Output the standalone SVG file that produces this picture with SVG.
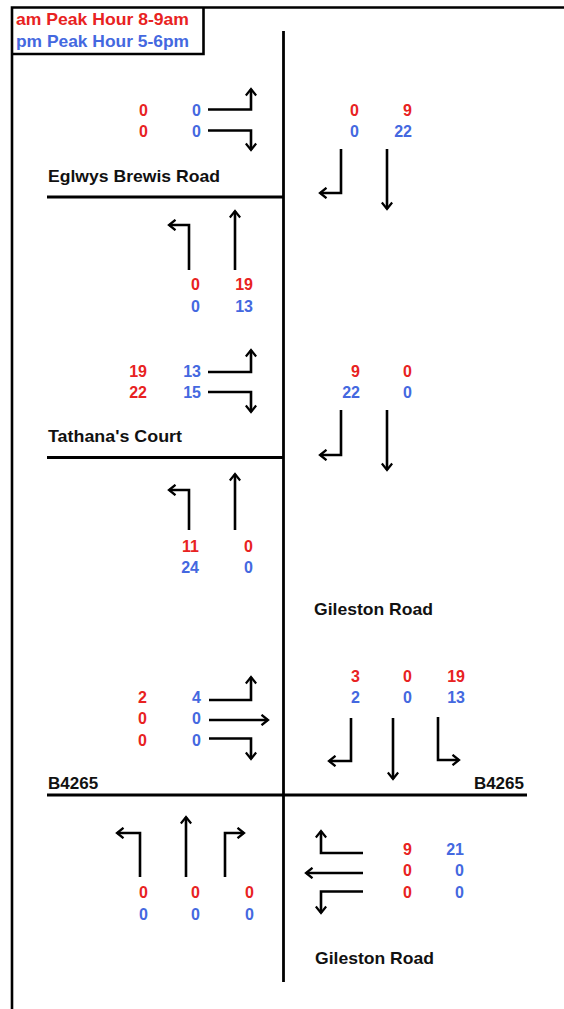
<svg xmlns="http://www.w3.org/2000/svg" width="564" height="1009" viewBox="0 0 564 1009">
  <defs>
    <style>
      .frame { stroke: #000; stroke-width: 2.6; fill: none; }
      .road { stroke: #000; stroke-width: 2.8; fill: none; }
      .mv { stroke: #000; stroke-width: 2.6; fill: none; marker-end: url(#head); }
      .lbl { font-family: "Liberation Sans", Arial, sans-serif; font-weight: bold; font-size: 17px; fill: #111; }
      .n { font-family: "Liberation Sans", Arial, sans-serif; font-weight: bold; font-size: 16px; text-anchor: end; }
      .am { fill: #e82222; }
      .pm { fill: #4468e0; }
    </style>
    <marker id="head" viewBox="0 0 12 12" refX="10" refY="6" markerWidth="12" markerHeight="12" markerUnits="userSpaceOnUse" orient="auto">
      <path d="M3.5,0.8 L10,6 L3.5,11.2" fill="none" stroke="#000" stroke-width="2.3" stroke-linejoin="miter"/>
    </marker>
  </defs>

  <rect width="564" height="1009" fill="#fff"/>

  <!-- page frame and legend -->
  <g id="frame">
    <path class="frame" d="M12,1009 V7.5 H564"/>
    <path class="frame" d="M12,54 H203.5 V7.5"/>
  </g>
  <g id="legend">
    <text class="lbl am" x="16" y="25" textLength="173" lengthAdjust="spacingAndGlyphs">am Peak Hour 8-9am</text>
    <text class="lbl pm" x="16" y="47" textLength="173" lengthAdjust="spacingAndGlyphs">pm Peak Hour 5-6pm</text>
  </g>

  <!-- carriageways -->
  <g id="roads">
    <path class="road" d="M283.5,31 V982"/>
    <path class="road" d="M47,197 H283.5"/>
    <path class="road" d="M47,457.5 H283.5"/>
    <path class="road" d="M47,795 H527"/>
  </g>

  <g id="road-names">
    <text class="lbl" x="48" y="182" textLength="172" lengthAdjust="spacingAndGlyphs">Eglwys Brewis Road</text>
    <text class="lbl" x="48" y="442" textLength="134" lengthAdjust="spacingAndGlyphs">Tathana's Court</text>
    <text class="lbl" x="314" y="615" textLength="119" lengthAdjust="spacingAndGlyphs">Gileston Road</text>
    <text class="lbl" x="48" y="789">B4265</text>
    <text class="lbl" x="524" y="789" text-anchor="end">B4265</text>
    <text class="lbl" x="315" y="964" textLength="119" lengthAdjust="spacingAndGlyphs">Gileston Road</text>
  </g>

  <!-- turning movements -->
  <g id="connectors">
    <!-- Eglwys Brewis Road approach -->
    <path class="mv" d="M208,109.5 H251 V89"/>
    <path class="mv" d="M208,130.5 H251 V150"/>
    <!-- Gileston Road southbound at Eglwys Brewis Road -->
    <path class="mv" d="M341,149 V193 H320"/>
    <path class="mv" d="M387,149 V209"/>
    <!-- northbound at Eglwys Brewis Road -->
    <path class="mv" d="M189,270 V225 H169"/>
    <path class="mv" d="M235,270 V211"/>
    <!-- Tathana's Court approach -->
    <path class="mv" d="M208,372 H251 V350"/>
    <path class="mv" d="M208,392 H251 V412"/>
    <!-- southbound at Tathana's Court -->
    <path class="mv" d="M341,410 V455 H320"/>
    <path class="mv" d="M387,410 V470"/>
    <!-- northbound at Tathana's Court -->
    <path class="mv" d="M189,530 V490 H169"/>
    <path class="mv" d="M235,530 V474"/>
    <!-- B4265 eastbound -->
    <path class="mv" d="M209,700 H251 V677"/>
    <path class="mv" d="M209,720 H268"/>
    <path class="mv" d="M209,738.5 H251 V759"/>
    <!-- Gileston Road southbound at B4265 -->
    <path class="mv" d="M351,718 V761 H329"/>
    <path class="mv" d="M393,718 V779"/>
    <path class="mv" d="M438,717 V760 H459"/>
    <!-- Gileston Road northbound at B4265 -->
    <path class="mv" d="M140,877 V833 H117"/>
    <path class="mv" d="M186,877 V817"/>
    <path class="mv" d="M225,877 V833 H244"/>
    <!-- B4265 westbound -->
    <path class="mv" d="M363,853 H321 V831"/>
    <path class="mv" d="M363,873 H306"/>
    <path class="mv" d="M363,891.5 H321 V913"/>
  </g>

  <!-- counts: am row red, pm row blue -->
  <g id="counts-eglwys-east">
    <text class="n am" x="148" y="116">0</text>
    <text class="n pm" x="201" y="116">0</text>
    <text class="n am" x="148" y="137">0</text>
    <text class="n pm" x="201" y="137">0</text>
  </g>
  <g id="counts-eglwys-south">
    <text class="n am" x="359" y="116">0</text>
    <text class="n am" x="412" y="116">9</text>
    <text class="n pm" x="359" y="137">0</text>
    <text class="n pm" x="412" y="137">22</text>
  </g>
  <g id="counts-eglwys-north">
    <text class="n am" x="200" y="290">0</text>
    <text class="n am" x="253" y="290">19</text>
    <text class="n pm" x="200" y="312">0</text>
    <text class="n pm" x="253" y="312">13</text>
  </g>
  <g id="counts-tathana-east">
    <text class="n am" x="147" y="377">19</text>
    <text class="n pm" x="201" y="377">13</text>
    <text class="n am" x="147" y="398">22</text>
    <text class="n pm" x="201" y="398">15</text>
  </g>
  <g id="counts-tathana-south">
    <text class="n am" x="360" y="377">9</text>
    <text class="n am" x="412" y="377">0</text>
    <text class="n pm" x="360" y="398">22</text>
    <text class="n pm" x="412" y="398">0</text>
  </g>
  <g id="counts-tathana-north">
    <text class="n am" x="199" y="552">11</text>
    <text class="n am" x="253" y="552">0</text>
    <text class="n pm" x="199" y="573">24</text>
    <text class="n pm" x="253" y="573">0</text>
  </g>
  <g id="counts-b4265-east">
    <text class="n am" x="147" y="703">2</text>
    <text class="n pm" x="201" y="703">4</text>
    <text class="n am" x="147" y="724">0</text>
    <text class="n pm" x="201" y="724">0</text>
    <text class="n am" x="147" y="746">0</text>
    <text class="n pm" x="201" y="746">0</text>
  </g>
  <g id="counts-b4265-south">
    <text class="n am" x="360" y="682">3</text>
    <text class="n am" x="412" y="682">0</text>
    <text class="n am" x="465" y="682">19</text>
    <text class="n pm" x="360" y="703">2</text>
    <text class="n pm" x="412" y="703">0</text>
    <text class="n pm" x="465" y="703">13</text>
  </g>
  <g id="counts-b4265-north">
    <text class="n am" x="148" y="898">0</text>
    <text class="n am" x="200" y="898">0</text>
    <text class="n am" x="254" y="898">0</text>
    <text class="n pm" x="148" y="920">0</text>
    <text class="n pm" x="200" y="920">0</text>
    <text class="n pm" x="254" y="920">0</text>
  </g>
  <g id="counts-b4265-west">
    <text class="n am" x="412" y="855">9</text>
    <text class="n pm" x="464" y="855">21</text>
    <text class="n am" x="412" y="876">0</text>
    <text class="n pm" x="464" y="876">0</text>
    <text class="n am" x="412" y="898">0</text>
    <text class="n pm" x="464" y="898">0</text>
  </g>
</svg>
